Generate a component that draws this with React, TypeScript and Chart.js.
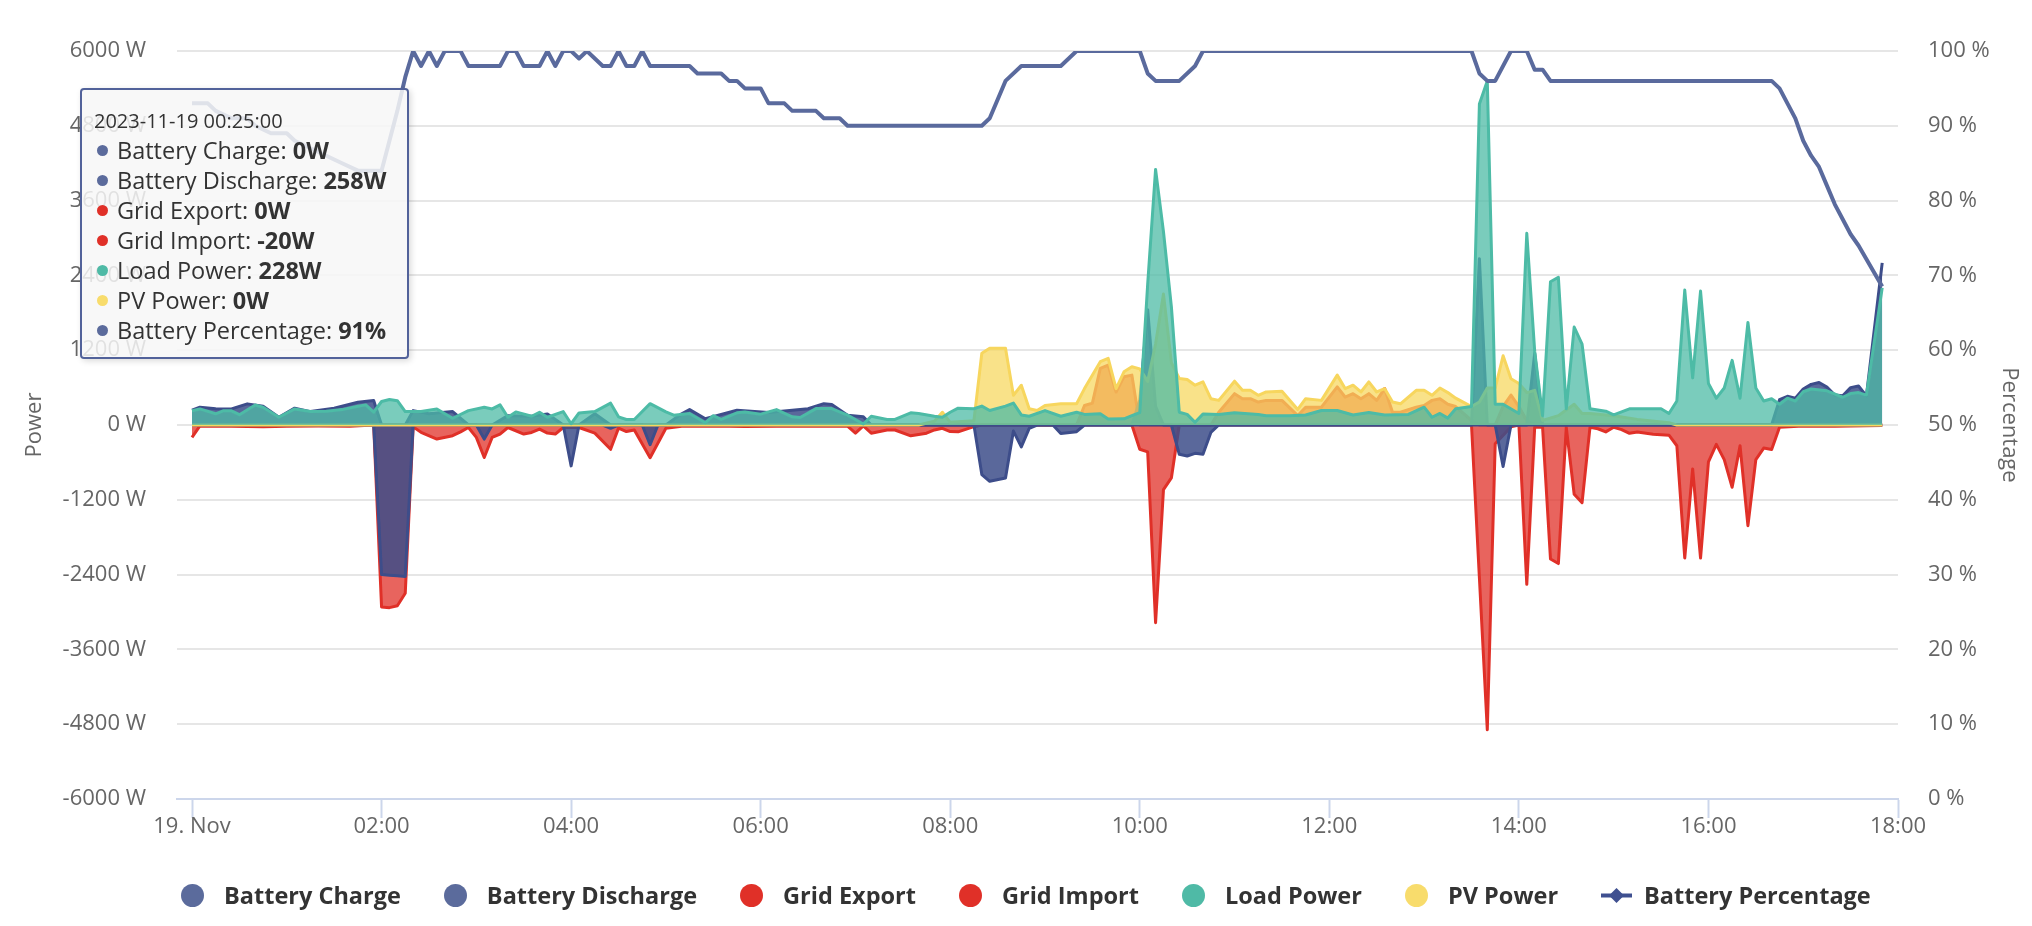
import React, { useEffect, useRef } from "react";
import { Chart, registerables } from "chart.js";

Chart.register(...registerables);

type Pt = [number, number];

// ---------- axis / label data ----------
const DAY = "2023-11-19";
const X_MIN = -9.5;
const X_MAX = 1080;
const X_TICK_MINUTES = [0, 120, 240, 360, 480, 600, 720, 840, 960, 1080];
const X_TICK_LABELS = ["19. Nov", "02:00", "04:00", "06:00", "08:00", "10:00", "12:00", "14:00", "16:00", "18:00"];
const POWER_MIN = -6000;
const POWER_MAX = 6000;
const POWER_STEP = 1200;
const PCT_MIN = 0;
const PCT_MAX = 100;
const PCT_STEP = 10;
const HOVER_MINUTE = 25;

// ---------- series values: [minute of day, value] ----------
const BATTERY_CHARGE: Pt[] = [
  [0, 0], [115, 0], [120, -2400], [125, -2410], [130, -2420], [135, -2430], [140, 0],
  [180, 0], [185, -226], [190, 0], [235, 0], [240, -656], [245, 0], [260, 0], [265, -53], [270, 0],
  [285, 0], [290, -316], [295, 0], [495, 0], [500, -795], [505, -903], [515, -849], [520, -97],
  [525, -351], [530, -54], [535, 0], [545, 0], [550, -135], [560, -108], [565, 0], [620, 0],
  [625, -470], [630, -497], [635, -454], [640, -470], [645, -119], [650, 0], [825, 0], [830, -667],
  [835, 0], [1070, 0],
];

const BATTERY_DISCHARGE: Pt[] = [
  [0, 240], [5, 285], [15, 260], [25, 258], [35, 339], [45, 300], [55, 124], [65, 270], [75, 215],
  [90, 269], [105, 366], [115, 393], [120, 0], [135, 0], [140, 231], [150, 180], [165, 215], [175, 0],
  [190, 0], [200, 150], [215, 140], [225, 178], [235, 0], [245, 0], [255, 180], [265, 0], [300, 0],
  [310, 180], [315, 247], [325, 100], [345, 237], [365, 200], [390, 260], [400, 342], [405, 330],
  [415, 158], [425, 131], [430, 0], [595, 0], [600, 400], [605, 1850], [610, 300], [615, 0], [810, 0],
  [815, 2668], [820, 0], [845, 0], [850, 1150], [855, 0], [1000, 0], [1005, 407], [1010, 460],
  [1015, 430], [1020, 578], [1025, 652], [1030, 682], [1035, 607], [1040, 481], [1045, 470],
  [1050, 600], [1055, 626], [1060, 467], [1070, 2600],
];

const GRID_EXPORT: Pt[] = [
  [0, 0], [560, 0], [565, 313], [570, 350], [575, 908], [580, 962], [585, 530], [590, 773], [595, 800],
  [600, 0], [645, 0], [650, 205], [660, 503], [665, 422], [670, 422], [675, 368], [680, 395], [690, 395],
  [700, 151], [705, 286], [715, 286], [725, 611], [730, 449], [735, 503], [740, 422], [745, 503],
  [750, 395], [755, 584], [760, 205], [765, 205], [775, 286], [780, 313], [785, 395], [790, 420],
  [795, 333], [800, 296], [810, 74], [815, 0], [825, 0], [830, 300], [835, 481], [840, 296], [845, 70],
  [850, 0], [1070, 0],
];

const GRID_IMPORT: Pt[] = [
  [0, -200], [5, -15], [15, -20], [25, -20], [35, -25], [45, -30], [60, -20], [80, -15], [100, -20],
  [115, 0], [120, -2920], [125, -2930], [130, -2900], [135, -2700], [140, -30], [145, -118], [155, -226],
  [165, -172], [170, -110], [175, -40], [180, -199], [185, -522], [190, -200], [195, -145], [200, -40],
  [210, -145], [215, -120], [220, -65], [225, -130], [230, -145], [235, -40], [245, -40], [255, -131],
  [265, -390], [270, -50], [275, -105], [280, -80], [290, -526], [300, -53], [310, -20], [330, -15],
  [350, -25], [370, -20], [390, -15], [405, -20], [415, -20], [420, -131], [425, -15], [430, -131],
  [440, -79], [445, -80], [455, -174], [465, -131], [470, -79], [475, -53], [480, -105], [485, -110],
  [495, -27], [500, 0], [595, 0], [600, -389], [605, -432], [610, -3173], [615, -1038], [620, -849],
  [625, 0], [810, 0], [815, -2450], [820, -4890], [825, -300], [835, -30], [840, 0], [845, -2556],
  [850, -37], [855, -37], [860, -2150], [865, -2223], [870, -37], [875, -1111], [880, -1245], [885, -37],
  [890, -60], [895, -111], [900, -37], [905, -74], [910, -133], [915, -111], [925, -148], [935, -163],
  [940, -333], [945, -2134], [950, -704], [955, -2134], [960, -593], [965, -311], [970, -556],
  [975, -1000], [980, -333], [985, -1615], [990, -556], [995, -370], [1000, -393], [1005, -37],
  [1020, -15], [1040, -20], [1070, -10],
];

const LOAD_POWER: Pt[] = [
  [0, 230], [5, 258], [15, 180], [20, 230], [25, 228], [30, 165], [40, 320], [45, 285], [55, 125],
  [65, 258], [75, 215], [85, 220], [95, 247], [105, 300], [110, 323], [115, 205], [120, 377], [125, 409],
  [130, 390], [135, 215], [145, 215], [155, 258], [165, 108], [175, 231], [185, 285], [190, 258],
  [195, 323], [200, 124], [205, 210], [215, 140], [220, 204], [225, 124], [235, 215], [240, 20],
  [245, 194], [255, 215], [265, 350], [270, 131], [275, 89], [280, 89], [290, 342], [300, 210],
  [305, 158], [315, 184], [325, 37], [330, 150], [335, 89], [345, 195], [350, 210], [360, 174],
  [370, 247], [380, 131], [385, 120], [395, 263], [405, 263], [415, 158], [425, 16], [430, 140],
  [440, 89], [445, 89], [455, 195], [460, 184], [470, 140], [475, 124], [480, 205], [485, 270],
  [495, 260], [500, 303], [505, 232], [515, 303], [520, 351], [525, 162], [530, 140], [540, 232],
  [550, 140], [560, 205], [565, 170], [575, 180], [580, 97], [590, 100], [595, 151], [600, 200],
  [605, 2260], [610, 4100], [615, 3100], [620, 1900], [625, 205], [630, 170], [635, 43], [640, 178],
  [650, 170], [660, 195], [675, 170], [680, 150], [695, 150], [705, 160], [715, 232], [725, 232],
  [735, 160], [745, 200], [755, 160], [770, 170], [780, 286], [785, 124], [790, 185], [795, 111],
  [800, 260], [810, 296], [815, 5150], [820, 5520], [825, 333], [830, 333], [840, 185], [845, 3075],
  [850, 1185], [855, 150], [860, 2297], [865, 2370], [870, 260], [875, 1571], [880, 1297], [885, 260],
  [895, 222], [900, 163], [910, 260], [930, 260], [935, 185], [940, 385], [945, 2164], [950, 756],
  [955, 2149], [960, 667], [965, 430], [970, 593], [975, 1037], [980, 430], [985, 1645], [990, 593],
  [995, 385], [1000, 422], [1005, 333], [1010, 430], [1015, 385], [1020, 533], [1025, 578],
  [1035, 548], [1045, 445], [1050, 504], [1055, 520], [1060, 480], [1070, 2200],
];

const PV_POWER: Pt[] = [
  [0, 0], [460, 0], [470, 60], [475, 205], [480, 43], [495, 70], [500, 1151], [505, 1232], [515, 1232],
  [520, 476], [525, 638], [530, 260], [535, 232], [540, 313], [550, 340], [560, 340], [565, 584],
  [575, 1016], [580, 1070], [585, 584], [590, 854], [595, 935], [600, 900], [605, 700], [610, 1300],
  [615, 2100], [620, 1000], [625, 746], [630, 730], [635, 638], [640, 692], [645, 422], [650, 395],
  [660, 703], [665, 557], [670, 557], [675, 476], [680, 530], [690, 540], [700, 249], [705, 422],
  [715, 395], [725, 800], [730, 584], [735, 638], [740, 530], [745, 692], [750, 530], [755, 584],
  [760, 368], [765, 340], [775, 557], [780, 557], [785, 476], [790, 593], [795, 520], [800, 430],
  [810, 296], [815, 370], [820, 593], [825, 593], [830, 1111], [835, 741], [840, 667], [845, 520],
  [850, 555], [855, 74], [865, 150], [875, 333], [880, 185], [885, 185], [900, 150], [915, 90],
  [935, 37], [940, 0], [1070, 0],
];

const BATTERY_PERCENTAGE: Pt[] = [
  [0, 93], [10, 93], [15, 92], [25, 91], [35, 91], [40, 90], [50, 89], [60, 89], [65, 88], [75, 87],
  [85, 86], [95, 85], [105, 84], [120, 84], [125, 88], [130, 92], [135, 96.5], [140, 100], [145, 98],
  [150, 100], [155, 98], [160, 100], [170, 100], [175, 98], [195, 98], [200, 100], [205, 100], [210, 98],
  [220, 98], [225, 100], [230, 98], [235, 100], [240, 100], [245, 99], [250, 100], [260, 98], [265, 98],
  [270, 100], [275, 98], [280, 98], [285, 100], [290, 98], [315, 98], [320, 97], [335, 97], [340, 96],
  [345, 96], [350, 95], [360, 95], [365, 93], [375, 93], [380, 92], [395, 92], [400, 91], [410, 91],
  [415, 90], [500, 90], [505, 91], [515, 96], [525, 98], [550, 98], [560, 100], [600, 100], [605, 97],
  [610, 96], [625, 96], [635, 98], [640, 100], [810, 100], [815, 97], [820, 96], [825, 96], [835, 100],
  [845, 100], [850, 97.5], [855, 97.5], [860, 96], [1000, 96], [1005, 95], [1010, 93], [1015, 91],
  [1020, 88], [1025, 86], [1030, 84.5], [1035, 82], [1040, 79.5], [1045, 77.5], [1050, 75.5],
  [1055, 74], [1070, 68.5],
];

// ---------- styling ----------
const FONT = "'Open Sans', 'Noto Sans', 'DejaVu Sans', sans-serif";
const AXIS_TEXT = "#666666";

type SeriesDef = {
  label: string;
  data: Pt[];
  line: string;
  fill: string;
  legend: string;
  tip: string;
  unit: string;
  axis: "y" | "y1";
  area: boolean;
};

const SERIES: SeriesDef[] = [
  { label: "Battery Charge", data: BATTERY_CHARGE, line: "#3d4d8a", fill: "rgba(61,77,138,0.85)", legend: "#5b6b9c", tip: "#5b6b9c", unit: "W", axis: "y", area: true },
  { label: "Battery Discharge", data: BATTERY_DISCHARGE, line: "#3d4d8a", fill: "rgba(61,77,138,0.85)", legend: "#5b6b9c", tip: "#5b6b9c", unit: "W", axis: "y", area: true },
  { label: "Grid Export", data: GRID_EXPORT, line: "#e03028", fill: "rgba(224,48,40,0.75)", legend: "#e03028", tip: "#e03028", unit: "W", axis: "y", area: true },
  { label: "Grid Import", data: GRID_IMPORT, line: "#e03028", fill: "rgba(224,48,40,0.75)", legend: "#e03028", tip: "#e03028", unit: "W", axis: "y", area: true },
  { label: "Load Power", data: LOAD_POWER, line: "#4dbba6", fill: "rgba(77,187,166,0.75)", legend: "#4fbaa6", tip: "#4fbaa6", unit: "W", axis: "y", area: true },
  { label: "PV Power", data: PV_POWER, line: "#f7d65e", fill: "rgba(247,216,98,0.75)", legend: "#f8dc6c", tip: "#f8dc6c", unit: "W", axis: "y", area: true },
  { label: "Battery Percentage", data: BATTERY_PERCENTAGE, line: "#5a6a9d", fill: "transparent", legend: "#3f5090", tip: "#5b6b9c", unit: "%", axis: "y1", area: false },
];

// drawing order: first dataset is drawn on top in Chart.js
const DRAW_ORDER = ["Battery Percentage", "Load Power", "PV Power", "Battery Discharge", "Battery Charge", "Grid Import", "Grid Export"];

function valueAt(data: Pt[], t: number): number {
  for (let i = 0; i < data.length; i++) {
    if (data[i][0] === t) return data[i][1];
    if (i > 0 && data[i - 1][0] < t && data[i][0] > t) {
      const [x0, y0] = data[i - 1];
      const [x1, y1] = data[i];
      return y0 + ((y1 - y0) * (t - x0)) / (x1 - x0);
    }
  }
  return 0;
}

function minuteLabel(m: number): string {
  const h = Math.floor(m / 60);
  const mm = m % 60;
  return `${DAY} ${String(h).padStart(2, "0")}:${String(mm).padStart(2, "0")}:00`;
}

export default function App() {
  const canvasRef = useRef<HTMLCanvasElement | null>(null);

  useEffect(() => {
    document.body.style.margin = "0";
    document.body.style.overflow = "hidden";
    const canvas = canvasRef.current;
    if (!canvas) return;
    Chart.defaults.font.family = FONT;

    const datasets = DRAW_ORDER.map((name) => {
      const s = SERIES.find((d) => d.label === name)!;
      return {
        label: s.label,
        data: s.data.map(([x, y]) => ({ x, y })),
        yAxisID: s.axis,
        borderColor: s.line,
        backgroundColor: s.fill,
        borderWidth: s.area ? 3 : 4,
        fill: s.area ? "origin" : false,
        pointRadius: 0,
        pointHoverRadius: 0,
        tension: 0,
        borderJoinStyle: "round" as const,
      };
    });

    const chart = new Chart(canvas, {
      type: "line",
      data: { datasets },
      options: {
        animation: false,
        responsive: false,
        maintainAspectRatio: false,
        events: [],
        layout: { padding: { top: 51, bottom: 67, left: 0, right: 0 } },
        plugins: {
          legend: { display: false },
          tooltip: { enabled: false },
        },
        scales: {
          x: {
            type: "linear",
            min: X_MIN,
            max: X_MAX,
            afterBuildTicks: (scale: any) => {
              scale.ticks = X_TICK_MINUTES.map((v) => ({ value: v }));
            },
            afterFit: (scale: any) => {
              scale.height = 60;
            },
            ticks: {
              autoSkip: false,
              maxRotation: 0,
              color: AXIS_TEXT,
              font: { size: 22, family: FONT },
              padding: -4,
              callback: (_v: any, i: number) => X_TICK_LABELS[i],
            },
            grid: {
              drawOnChartArea: false,
              drawTicks: true,
              tickLength: 19,
              tickColor: "#ccd6eb",
              tickWidth: 2,
            },
            border: { display: true, color: "#ccd6eb", width: 2 },
          },
          y: {
            type: "linear",
            position: "left",
            min: POWER_MIN,
            max: POWER_MAX,
            afterFit: (scale: any) => {
              scale.width = 177;
            },
            ticks: {
              stepSize: POWER_STEP,
              color: AXIS_TEXT,
              font: { size: 22, family: FONT },
              padding: 31,
              callback: (v: any) => `${v} W`,
            },
            grid: { color: "#e6e6e6", lineWidth: 2, drawTicks: false },
            border: { display: false },
            title: {
              display: true,
              text: "Power",
              color: AXIS_TEXT,
              font: { size: 22, family: FONT },
              padding: { top: 22, bottom: 0 },
            },
          },
          y1: {
            type: "linear",
            position: "right",
            min: PCT_MIN,
            max: PCT_MAX,
            afterFit: (scale: any) => {
              scale.width = 134;
            },
            ticks: {
              stepSize: PCT_STEP,
              color: AXIS_TEXT,
              font: { size: 22, family: FONT },
              padding: 30,
              callback: (v: any) => `${v} %`,
            },
            grid: { display: false, drawTicks: false, drawOnChartArea: false },
            border: { display: false },
            title: {
              display: true,
              text: "Percentage",
              color: AXIS_TEXT,
              font: { size: 22, family: FONT },
              padding: { top: 10, bottom: 0 },
            },
          },
        },
      } as any,
    });

    return () => chart.destroy();
  }, []);

  const tooltipRows = SERIES.map((s) => {
    const v = valueAt(s.data, HOVER_MINUTE);
    return { label: s.label, color: s.tip, value: `${Math.round(v)}${s.unit}` };
  });

  return (
    <div style={{ position: "relative", width: 2032, height: 926, overflow: "hidden", background: "#ffffff" }}>
      <canvas
        ref={canvasRef}
        width={2032}
        height={926}
        style={{ position: "absolute", left: 0, top: 0, width: 2032, height: 926 }}
      />
      {/* hover tooltip */}
      <div
        style={{
          position: "absolute",
          left: 80,
          top: 88,
          width: 329,
          height: 271,
          boxSizing: "border-box",
          background: "rgba(247,247,247,0.85)",
          border: "2px solid #52629a",
          borderRadius: 4,
          boxShadow: "2px 2px 6px rgba(0,0,0,0.15)",
          fontFamily: FONT,
          color: "#333333",
          pointerEvents: "none",
        }}
      >
        <div style={{ position: "absolute", left: 12, top: 17, fontSize: 20, lineHeight: "28px", whiteSpace: "nowrap" }}>
          {minuteLabel(HOVER_MINUTE)}
        </div>
        {tooltipRows.map((r, i) => (
          <div
            key={r.label}
            style={{
              position: "absolute",
              left: 12,
              top: 45 + i * 30,
              height: 30,
              fontSize: 23.5,
              lineHeight: "30px",
              whiteSpace: "nowrap",
              display: "flex",
              alignItems: "center",
            }}
          >
            <span
              style={{
                display: "inline-block",
                width: 11,
                height: 11,
                borderRadius: "50%",
                background: r.color,
                marginLeft: 3,
                marginRight: 9,
              }}
            />
            <span>{r.label}:&nbsp;</span>
            <span style={{ fontWeight: 700 }}>{r.value}</span>
          </div>
        ))}
      </div>
      {/* legend */}
      <div
        style={{
          position: "absolute",
          left: 181,
          top: 879,
          height: 32,
          display: "flex",
          alignItems: "center",
          fontFamily: FONT,
          fontWeight: 700,
          fontSize: 23.5,
          color: "#333333",
          whiteSpace: "nowrap",
        }}
      >
        {SERIES.map((s, i) => (
          <div key={s.label} style={{ display: "flex", alignItems: "center", marginLeft: i ? 43 : 0 }}>
            {s.area ? (
              <span style={{ display: "inline-block", width: 23, height: 23, borderRadius: "50%", background: s.legend }} />
            ) : (
              <svg width={31} height={23} style={{ display: "block" }}>
                <line x1={0} y1={11.5} x2={31} y2={11.5} stroke={s.legend} strokeWidth={4} />
                <path d="M15.5 4 L23 11.5 L15.5 19 L8 11.5 Z" fill={s.legend} />
              </svg>
            )}
            <span style={{ marginLeft: s.area ? 20 : 12 }}>{s.label}</span>
          </div>
        ))}
      </div>
    </div>
  );
}
